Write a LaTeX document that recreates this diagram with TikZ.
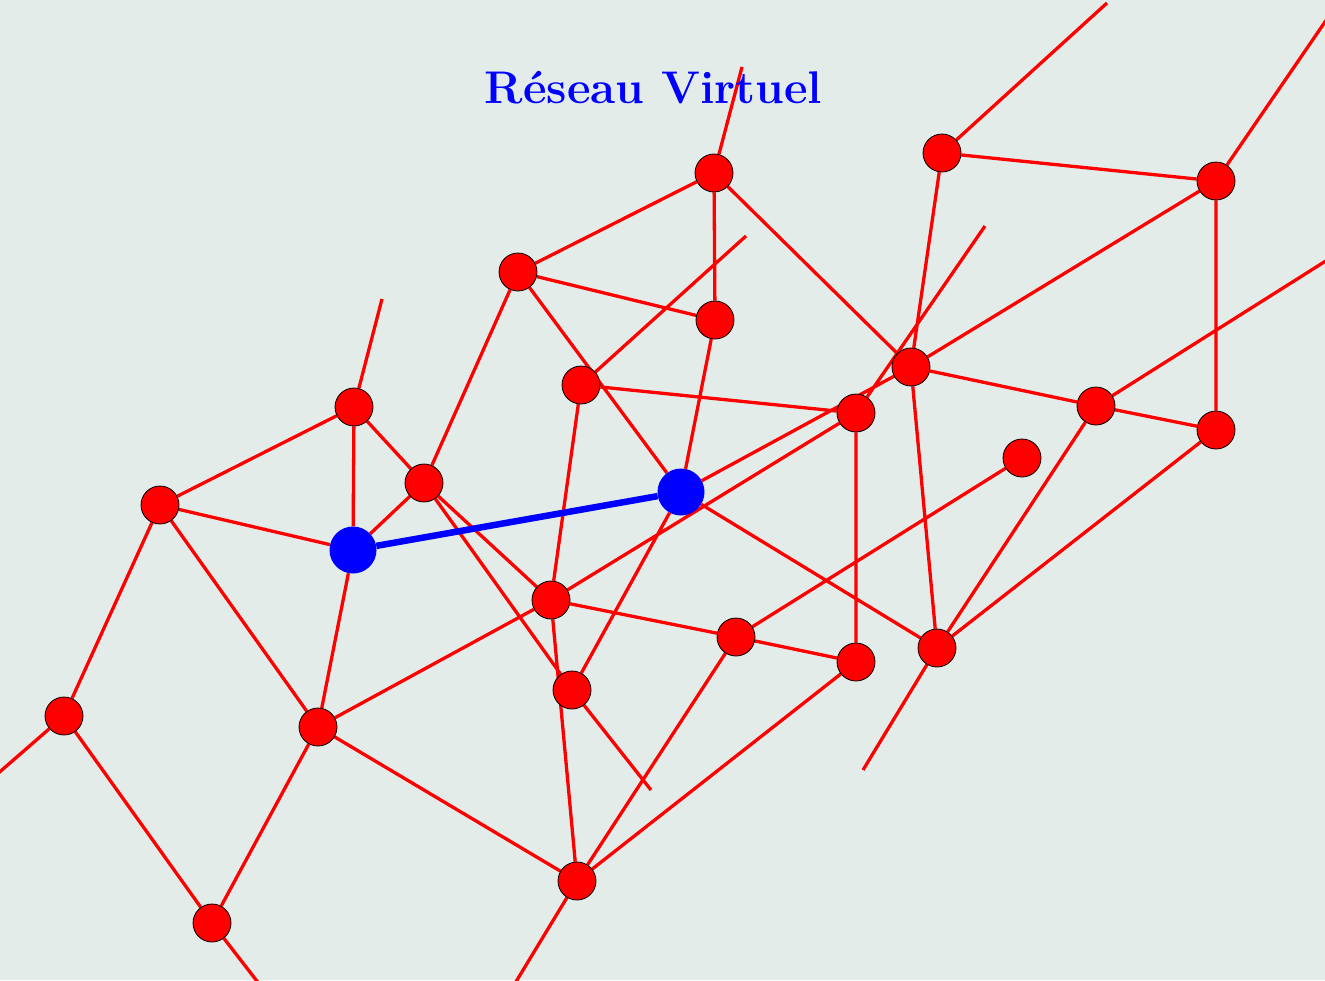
\documentclass[tikz,border=0pt]{standalone}
\usepackage{fontspec}
\usetikzlibrary{backgrounds}
\definecolor{bgcol}{HTML}{E3ECE9}
\pgfdeclarelayer{edges}
\pgfsetlayers{background,edges,main}
\tikzset{
  rnode/.style={circle, minimum size=38pt, inner sep=0pt, fill=red, draw=black, line width=0.8pt},
  bnode/.style={circle, minimum size=47pt, inner sep=0pt, fill=blue},
  redge/.style={draw=red, line width=3.3pt},
  bedge/.style={draw=blue, line width=6.5pt},
  titlestyle/.style={text=blue, font=\fontsize{45.8}{54}\selectfont\bfseries, inner sep=0pt, anchor=base}
}
\begin{document}
\begin{tikzpicture}[x=1pt,y=-1pt]
\begin{pgfonlayer}{background}
\fill[bgcol] (0,0) rectangle (1325,980);
\end{pgfonlayer}
\useasboundingbox (0,0) rectangle (1325,980);

\node[titlestyle] (title) at (653.5,103) {Réseau Virtuel};

% nodes
\node[rnode] (n1) at (714,173) {};
\node[rnode] (n2) at (942,153) {};
\node[rnode] (n3) at (1216,181) {};
\node[rnode] (n4) at (518,272) {};
\node[rnode] (n5) at (715,320) {};
\node[rnode] (n6) at (581,385) {};
\node[rnode] (n7) at (911,367) {};
\node[rnode] (n8) at (856,413) {};
\node[rnode] (n9) at (1096,406) {};
\node[rnode] (n10) at (1216,430) {};
\node[rnode] (n11) at (1022,458) {};
\node[rnode] (n12) at (354,407) {};
\node[rnode] (n13) at (424,483) {};
\node[rnode] (n14) at (160,505) {};
\node[bnode] (A) at (353,550) {};
\node[bnode] (B) at (681,492) {};
\node[rnode] (n17) at (551,600) {};
\node[rnode] (n18) at (736,637) {};
\node[rnode] (n19) at (856,662) {};
\node[rnode] (n20) at (937,648) {};
\node[rnode] (n21) at (572,690) {};
\node[rnode] (n22) at (64,716) {};
\node[rnode] (n23) at (318,727) {};
\node[rnode] (n24) at (577,881) {};
\node[rnode] (n25) at (212,923) {};

% free ends
\coordinate (f1) at (742,67);
\coordinate (f2) at (1107,3);
\coordinate (f3) at (1340,0);
\coordinate (f4) at (985,226);
\coordinate (f5) at (746,236);
\coordinate (f6) at (382,299);
\coordinate (f7) at (1340,252);
\coordinate (f8) at (863,770);
\coordinate (f9) at (651,790);
\coordinate (f10) at (-5,776);
\coordinate (f11) at (260,985);
\coordinate (f12) at (514,985);

\begin{pgfonlayer}{edges}
\path[redge]
  (n1) -- (f1)  (n1) -- (n4)  (n1) -- (n5)  (n1) -- (n7)
  (n2) -- (f2)  (n2) -- (n3)  (n2) -- (n7)
  (n3) -- (f3)  (n3) -- (n10) (n3) -- (n7)
  (n7) -- (n9)  (n7) -- (n20) (n7) -- (B)
  (n9) -- (n10) (n9) -- (f7)  (n9) -- (n20)
  (n10) -- (n20)
  (n20) -- (f8) (n20) -- (B)
  (n8) -- (f4)  (n8) -- (n19) (n8) -- (n6) (n8) -- (n17)
  (n4) -- (n5)  (n4) -- (n13) (n4) -- (B)
  (n6) -- (f5)  (n6) -- (n17)
  (n5) -- (B)
  (B) -- (n21)
  (n12) -- (f6) (n12) -- (n14) (n12) -- (A) (n12) -- (n13)
  (n13) -- (A)  (n13) -- (n17) (n13) -- (n21)
  (n14) -- (A)  (n14) -- (n22) (n14) -- (n23)
  (A) -- (n23)
  (n17) -- (n18) (n17) -- (n24) (n17) -- (n23)
  (n18) -- (n19) (n18) -- (n11) (n18) -- (n24)
  (n19) -- (n24)
  (n24) -- (f12) (n24) -- (n23)
  (n22) -- (f10) (n22) -- (n25)
  (n23) -- (n25)
  (n25) -- (f11)
  (n21) -- (f9);
\path[bedge] (A) -- (B);
\end{pgfonlayer}
\end{tikzpicture}
\end{document}
